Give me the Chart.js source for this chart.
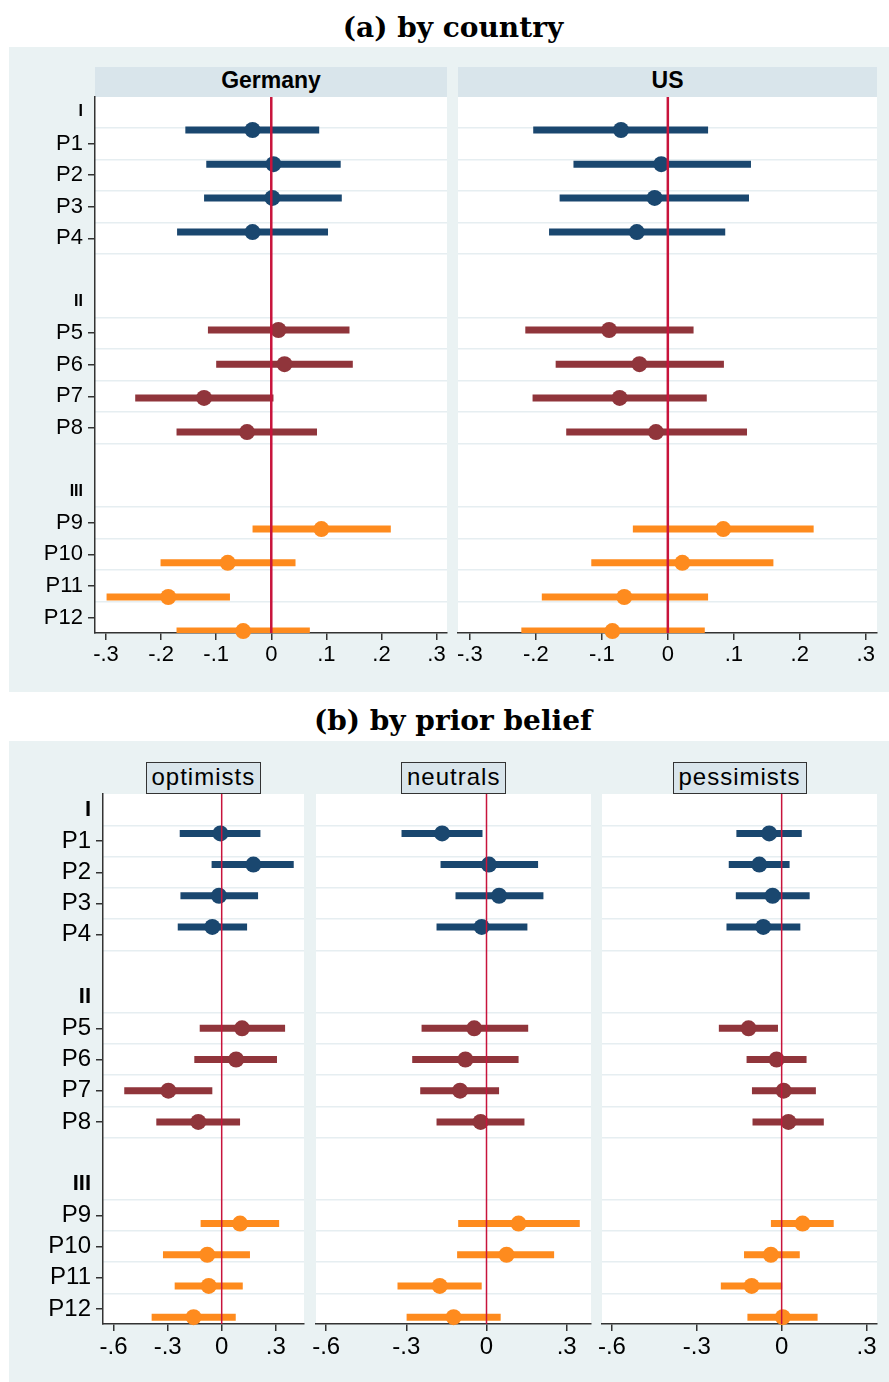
<!DOCTYPE html>
<html>
<head>
<meta charset="utf-8">
<script src="https://cdn.jsdelivr.net/npm/chart.js@4.4.1/dist/chart.umd.min.js"></script>
<style>
  body { margin: 0; width: 889px; height: 1382px; position: relative; overflow: hidden; background: #fff;
         font-family: "Liberation Sans", Arial, sans-serif; }
  .bg { position: absolute; background: #eaf2f3; }
  .plot { position: absolute; background: #fff; }
  .title { position: absolute; left: 13px; width: 880px; text-align: center; font-family: "DejaVu Serif", serif;
           font-weight: bold; font-size: 28px; line-height: 30px; }
  .strip { position: absolute; background: #d9e5eb; text-align: center; font-weight: bold; font-size: 23px; line-height: 27px; }
  .box { position: absolute; background: #d9e5eb; border: 1px solid #333; box-sizing: border-box; text-align: center;
         font-size: 24px; letter-spacing: 1px; line-height: 28px; height: 32px; padding: 0 5px; }
  canvas { position: absolute; }
</style>
</head>
<body>
<div class="title" style="top:13px">(a) by country</div>
<div class="bg" style="left:9px;top:47px;width:880px;height:645px"></div>
<div class="title" style="top:706px">(b) by prior belief</div>
<div class="bg" style="left:9px;top:741px;width:880px;height:641px"></div>
<script>
const rowLabels = ['I', 'P1', 'P2', 'P3', 'P4', '', 'II', 'P5', 'P6', 'P7', 'P8', '', 'III', 'P9', 'P10', 'P11', 'P12'];
const headings = ['I', 'II', 'III'];
const gridRows = [0.5, 1.5, 2.5, 3.5, 4.5, 6.5, 7.5, 8.5, 9.5, 10.5, 12.5, 13.5, 14.5, 15.5];
// where each item's marker sits on the row axis
const itemRowsA = [0.57, 1.65, 2.72, 3.8, 6.9, 7.98, 9.05, 10.13, 13.2, 14.27, 15.35, 16.43];
const itemRowsB = [0.75, 1.75, 2.75, 3.75, 7, 8, 9, 10, 13.26, 14.26, 15.26, 16.26];

const germanyEst = [-0.034, 0.004, 0.002, -0.034, 0.013, 0.024, -0.122, -0.044, 0.091, -0.079, -0.187, -0.051];
const germanyLo = [-0.156, -0.118, -0.122, -0.171, -0.115, -0.100, -0.247, -0.172, -0.034, -0.201, -0.299, -0.172];
const germanyHi = [0.087, 0.126, 0.128, 0.103, 0.142, 0.148, 0.004, 0.083, 0.217, 0.044, -0.075, 0.070];

const usEst = [-0.071, -0.010, -0.020, -0.047, -0.089, -0.043, -0.073, -0.018, 0.084, 0.022, -0.066, -0.084];
const usLo = [-0.204, -0.143, -0.164, -0.180, -0.216, -0.170, -0.205, -0.154, -0.053, -0.116, -0.191, -0.222];
const usHi = [0.061, 0.126, 0.123, 0.087, 0.039, 0.085, 0.059, 0.120, 0.221, 0.160, 0.061, 0.056];

const optEst = [-0.007, 0.176, -0.015, -0.052, 0.113, 0.080, -0.296, -0.130, 0.102, -0.080, -0.072, -0.156];
const optLo = [-0.233, -0.056, -0.229, -0.244, -0.122, -0.152, -0.541, -0.363, -0.117, -0.326, -0.261, -0.389];
const optHi = [0.215, 0.400, 0.202, 0.141, 0.352, 0.307, -0.052, 0.102, 0.319, 0.157, 0.117, 0.078];

const neuEst = [-0.166, 0.009, 0.047, -0.018, -0.046, -0.079, -0.099, -0.022, 0.120, 0.075, -0.175, -0.123];
const neuLo = [-0.318, -0.172, -0.116, -0.187, -0.243, -0.278, -0.248, -0.187, -0.106, -0.110, -0.333, -0.299];
const neuHi = [-0.015, 0.193, 0.213, 0.153, 0.156, 0.120, 0.047, 0.142, 0.349, 0.253, -0.018, 0.053];

const pesEst = [-0.044, -0.079, -0.032, -0.065, -0.117, -0.018, 0.007, 0.024, 0.074, -0.038, -0.106, 0.004];
const pesLo = [-0.160, -0.187, -0.162, -0.195, -0.222, -0.124, -0.105, -0.103, -0.038, -0.133, -0.215, -0.121];
const pesHi = [0.071, 0.028, 0.099, 0.066, -0.013, 0.088, 0.121, 0.149, 0.184, 0.064, 0.002, 0.127];

const countryTicks = [-0.3, -0.2, -0.1, 0, 0.1, 0.2, 0.3];
const beliefTicks = [-0.6, -0.3, 0, 0.3];

const groupColors = ['#1a476f', '#90353b', '#fe8b1e'];
const fontFamily = '"Liberation Sans", Arial, sans-serif';

const fmt = v => v === 0 ? '0' : (v < 0 ? '-' : '') + Math.abs(v).toFixed(1).slice(1);

const panels = [
  { name: 'Germany', est: germanyEst, lo: germanyLo, hi: germanyHi, rows: itemRowsA,
    area: { l: 95, t: 97, r: 447, b: 633 }, xMin: -0.32, xMax: 0.319, xTicks: countryTicks,
    yMin: -0.475, yMax: 16.49, showY: true, yWidth: 80, labelSize: 22, headSize: 16, xSize: 22, zeroW: 2.5, boxed: false },
  { name: 'US', est: usEst, lo: usLo, hi: usHi, rows: itemRowsA,
    area: { l: 458, t: 97, r: 877, b: 633 }, xMin: -0.318, xMax: 0.317, xTicks: countryTicks,
    yMin: -0.475, yMax: 16.49, showY: false, xSize: 22, zeroW: 2.5, boxed: false },
  { name: 'optimists', est: optEst, lo: optLo, hi: optHi, rows: itemRowsB,
    area: { l: 103, t: 794, r: 304, b: 1324 }, xMin: -0.659, xMax: 0.457, xTicks: beliefTicks,
    yMin: -0.513, yMax: 16.48, showY: true, yWidth: 90, labelSize: 24, headSize: 22, xSize: 24, zeroW: 1.5, boxed: true },
  { name: 'neutrals', est: neuEst, lo: neuLo, hi: neuHi, rows: itemRowsB,
    area: { l: 316, t: 794, r: 591, b: 1324 }, xMin: -0.638, xMax: 0.391, xTicks: beliefTicks,
    yMin: -0.513, yMax: 16.48, showY: false, xSize: 24, zeroW: 1.5, boxed: true },
  { name: 'pessimists', est: pesEst, lo: pesLo, hi: pesHi, rows: itemRowsB,
    area: { l: 602, t: 794, r: 877, b: 1324 }, xMin: -0.635, xMax: 0.337, xTicks: beliefTicks,
    yMin: -0.513, yMax: 16.48, showY: false, xSize: 24, zeroW: 1.5, boxed: true },
];

function addDiv(cls, css, text) {
  const d = document.createElement('div');
  d.className = cls;
  Object.assign(d.style, css);
  if (text) d.textContent = text;
  document.body.appendChild(d);
  return d;
}

function drawPanel(p) {
  const a = p.area;
  addDiv('plot', { left: a.l + 'px', top: a.t + 'px', width: (a.r - a.l) + 'px', height: (a.b - a.t) + 'px' });

  if (p.boxed) {
    const b = addDiv('box', { top: (a.t - 32) + 'px' }, p.name);
    b.style.left = ((a.l + a.r) / 2 - b.offsetWidth / 2) + 'px';
  } else {
    addDiv('strip', { left: a.l + 'px', top: (a.t - 30) + 'px', width: (a.r - a.l) + 'px', height: '30px' }, p.name);
  }

  const padT = 25, padR = 15, padL = p.showY ? 0 : 15, axisW = p.showY ? p.yWidth : 0, axisH = 45;
  const cv = document.createElement('canvas');
  const left = a.l - axisW - padL;
  const top = a.t - padT;
  cv.width = a.r + padR - left;
  cv.height = a.b + axisH - top;
  cv.style.left = left + 'px';
  cv.style.top = top + 'px';
  document.body.appendChild(cv);

  const datasets = [];
  [0, 1, 2].forEach(g => {
    const ci = [], dots = [];
    for (let i = g * 4; i < g * 4 + 4; i++) {
      ci.push({ x: p.lo[i], y: p.rows[i] }, { x: p.hi[i], y: p.rows[i] }, { x: null, y: null });
      dots.push({ x: p.est[i], y: p.rows[i] });
    }
    datasets.push({ data: ci, showLine: true, borderColor: groupColors[g], borderWidth: 7,
      borderCapStyle: 'butt', pointRadius: 0, order: 2 });
    datasets.push({ data: dots, backgroundColor: groupColors[g], borderWidth: 0, pointRadius: 8, order: 1, clip: false });
  });
  datasets.push({ data: [{ x: 0, y: p.yMin }, { x: 0, y: p.yMax }], showLine: true, borderColor: '#c8143c',
    borderWidth: p.zeroW, pointRadius: 0, order: 0 });

  new Chart(cv.getContext('2d'), {
    type: 'scatter',
    data: { datasets },
    options: {
      responsive: false,
      animation: false,
      events: [],
      layout: { padding: { top: padT, right: padR, left: padL, bottom: 0 } },
      plugins: { legend: { display: false }, tooltip: { enabled: false } },
      scales: {
        x: {
          type: 'linear', min: p.xMin, max: p.xMax,
          afterBuildTicks: s => { s.ticks = p.xTicks.map(v => ({ value: v })); },
          afterFit: s => { s.height = axisH; },
          ticks: { callback: v => fmt(v), color: '#000', padding: 2, maxRotation: 0, autoSkip: false,
                   font: { family: fontFamily, size: p.xSize } },
          grid: { drawOnChartArea: false, tickLength: 7, color: '#333', lineWidth: 1.5 },
          border: { color: '#333', width: 1.5 }
        },
        y: {
          type: 'linear', display: p.showY, reverse: true, min: p.yMin, max: p.yMax, position: 'left',
          afterBuildTicks: s => { s.ticks = rowLabels.map((l, i) => ({ value: i })); },
          afterFit: s => { s.width = axisW; },
          ticks: {
            autoSkip: false, padding: 5, color: '#000',
            callback: (v, i) => rowLabels[i],
            font: ctx => headings.includes(rowLabels[ctx.index])
              ? { family: fontFamily, size: p.headSize, weight: 'bold' }
              : { family: fontFamily, size: p.labelSize }
          },
          grid: { drawOnChartArea: false, tickLength: 7, lineWidth: 1.5,
                  tickColor: ctx => (rowLabels[ctx.index] || '').startsWith('P') ? '#333' : 'rgba(0,0,0,0)' },
          border: { color: '#333', width: 1.5 }
        },
        yg: {
          type: 'linear', reverse: true, min: p.yMin, max: p.yMax, position: 'left',
          afterBuildTicks: s => { s.ticks = gridRows.map(v => ({ value: v })); },
          afterFit: s => { s.width = 0; },
          ticks: { display: false },
          grid: { color: '#e6eef1', lineWidth: 1.5, drawTicks: false },
          border: { display: false }
        }
      }
    }
  });
}

panels.forEach(drawPanel);
</script>
</body>
</html>
